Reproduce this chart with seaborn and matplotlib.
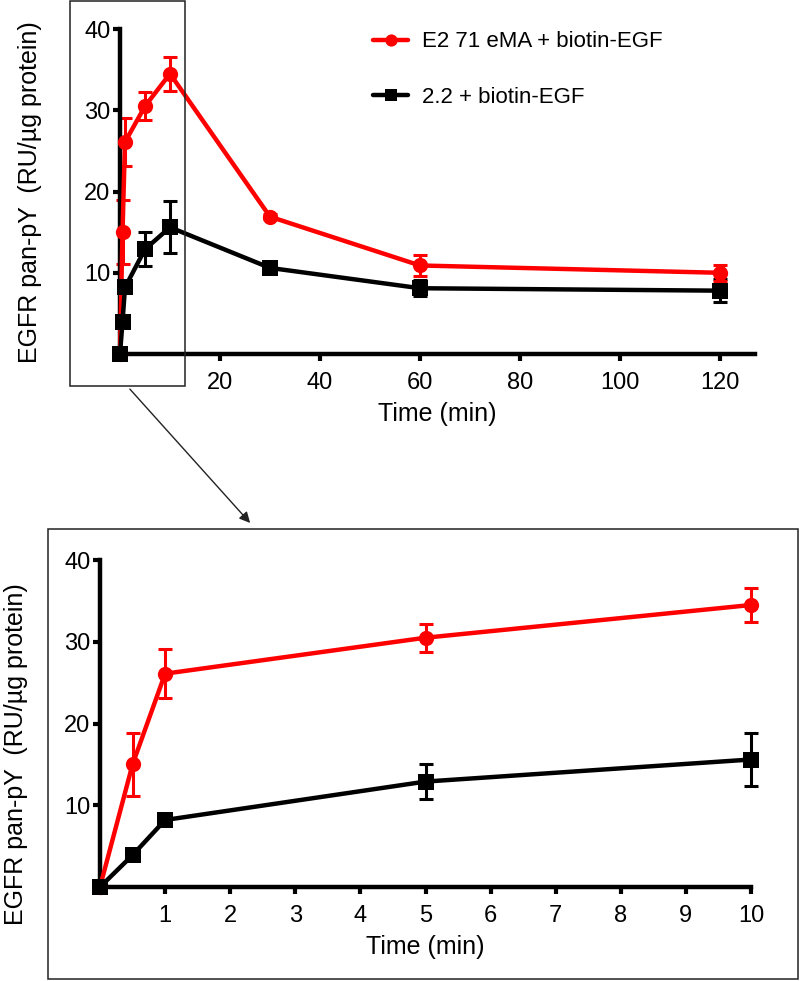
import numpy as np
import pandas as pd
import seaborn as sns
import matplotlib.pyplot as plt
from matplotlib.patches import Rectangle, FancyArrowPatch

# time course data (min), mean and SEM
time = [0, 0.5, 1, 5, 10, 30, 60, 120]
red_name = "E2 71 eMA + biotin-EGF"
black_name = "2.2 + biotin-EGF"
red_mean = [0, 15.0, 26.1, 30.5, 34.5, 16.9, 10.9, 10.0]
red_err = [0, 3.9, 3.0, 1.7, 2.1, 0.3, 1.3, 1.0]
black_mean = [0, 3.9, 8.2, 12.9, 15.6, 10.6, 8.1, 7.8]
black_err = [0, 0.3, 0.4, 2.1, 3.2, 0.4, 1.0, 1.4]

top_xticks = [20, 40, 60, 80, 100, 120]
bottom_xticks = [0, 1, 2, 3, 4, 5, 6, 7, 8, 9, 10]
yticks = [10, 20, 30, 40]
ylabel = "EGFR pan-pY  (RU/µg protein)"
xlabel = "Time (min)"

sns.set_style("ticks")
plt.rcParams['font.family'] = ['Liberation Sans', 'DejaVu Sans']
for k in ["text.color", "axes.labelcolor", "xtick.color", "ytick.color", "axes.edgecolor"]:
    plt.rcParams[k] = "black"

df = pd.DataFrame({
    "time": time * 2,
    "value": red_mean + black_mean,
    "err": red_err + black_err,
    "series": [red_name] * len(time) + [black_name] * len(time),
})
palette = {red_name: "#ff0000", black_name: "black"}
markers = {red_name: "o", black_name: "s"}


def draw_panel(ax, data, legend):
    sns.lineplot(data=data, x="time", y="value", hue="series", style="series",
                 palette=palette, markers=markers, dashes=False, linewidth=3.2,
                 markersize=11, markeredgewidth=0, legend=legend, ax=ax,
                 clip_on=False, zorder=3)
    for name, grp in data.groupby("series"):
        ax.errorbar(grp["time"], grp["value"], yerr=grp["err"], fmt="none",
                    ecolor=palette[name], elinewidth=2.2, capsize=5, capthick=2.2,
                    clip_on=False, zorder=2)
    sns.despine(ax=ax)
    for s in ["left", "bottom"]:
        ax.spines[s].set_linewidth(3.2)
        ax.spines[s].set_color("black")
    ax.set_ylim(0, 40)
    ax.set_yticks(yticks)
    ax.tick_params(axis="both", labelsize=17, width=3, length=5, direction="out",
                   colors="black")
    ax.tick_params(axis="y", pad=2)
    ax.tick_params(axis="x", pad=8)
    ax.set_xlabel(xlabel, fontsize=18, labelpad=6)
    ax.set_ylabel("")


fig = plt.figure(figsize=(8, 9.81), dpi=100)

ax1 = fig.add_axes([0.15, 0.6391, 0.79375, 0.3313])
draw_panel(ax1, df, True)
ax1.set_xlim(0, 127)
ax1.set_xticks(top_xticks)
handles, labels = ax1.get_legend_handles_labels()
ax1.legend(handles, labels, loc="upper left", bbox_to_anchor=(0.466, 0.968),
           bbox_transform=fig.transFigure, frameon=False, fontsize=16,
           borderpad=0, borderaxespad=0, handlelength=1.6, handletextpad=0.6,
           labelspacing=1.55, markerscale=0.8)

ax2 = fig.add_axes([0.125, 0.0958, 0.81375, 0.3333])
draw_panel(ax2, df[df["time"] <= 10], False)
ax2.set_xlim(0, 10)
ax2.set_xticks(bottom_xticks)
ax2.set_xticklabels([""] + [str(t) for t in bottom_xticks[1:]])

fig.text(0.0375, 0.804, ylabel, rotation=90, ha="center", va="center", fontsize=18)
fig.text(0.02, 0.231, ylabel, rotation=90, ha="center", va="center", fontsize=18)

# zoom box, arrow and inset frame
fig.patches.append(Rectangle((0.0875, 0.6065), 0.144, 0.392, fill=False,
                             edgecolor="#222222", linewidth=1.1,
                             transform=fig.transFigure, figure=fig))
fig.patches.append(Rectangle((0.06, 0.002), 0.9375, 0.4587, fill=False,
                             edgecolor="#222222", linewidth=1.1,
                             transform=fig.transFigure, figure=fig))
fig.patches.append(FancyArrowPatch((0.16, 0.6055), (0.315, 0.4648),
                                   arrowstyle="-|>", mutation_scale=16,
                                   color="#222222", linewidth=1.0,
                                   transform=fig.transFigure, figure=fig))

fig.savefig("out.png", dpi=100)
